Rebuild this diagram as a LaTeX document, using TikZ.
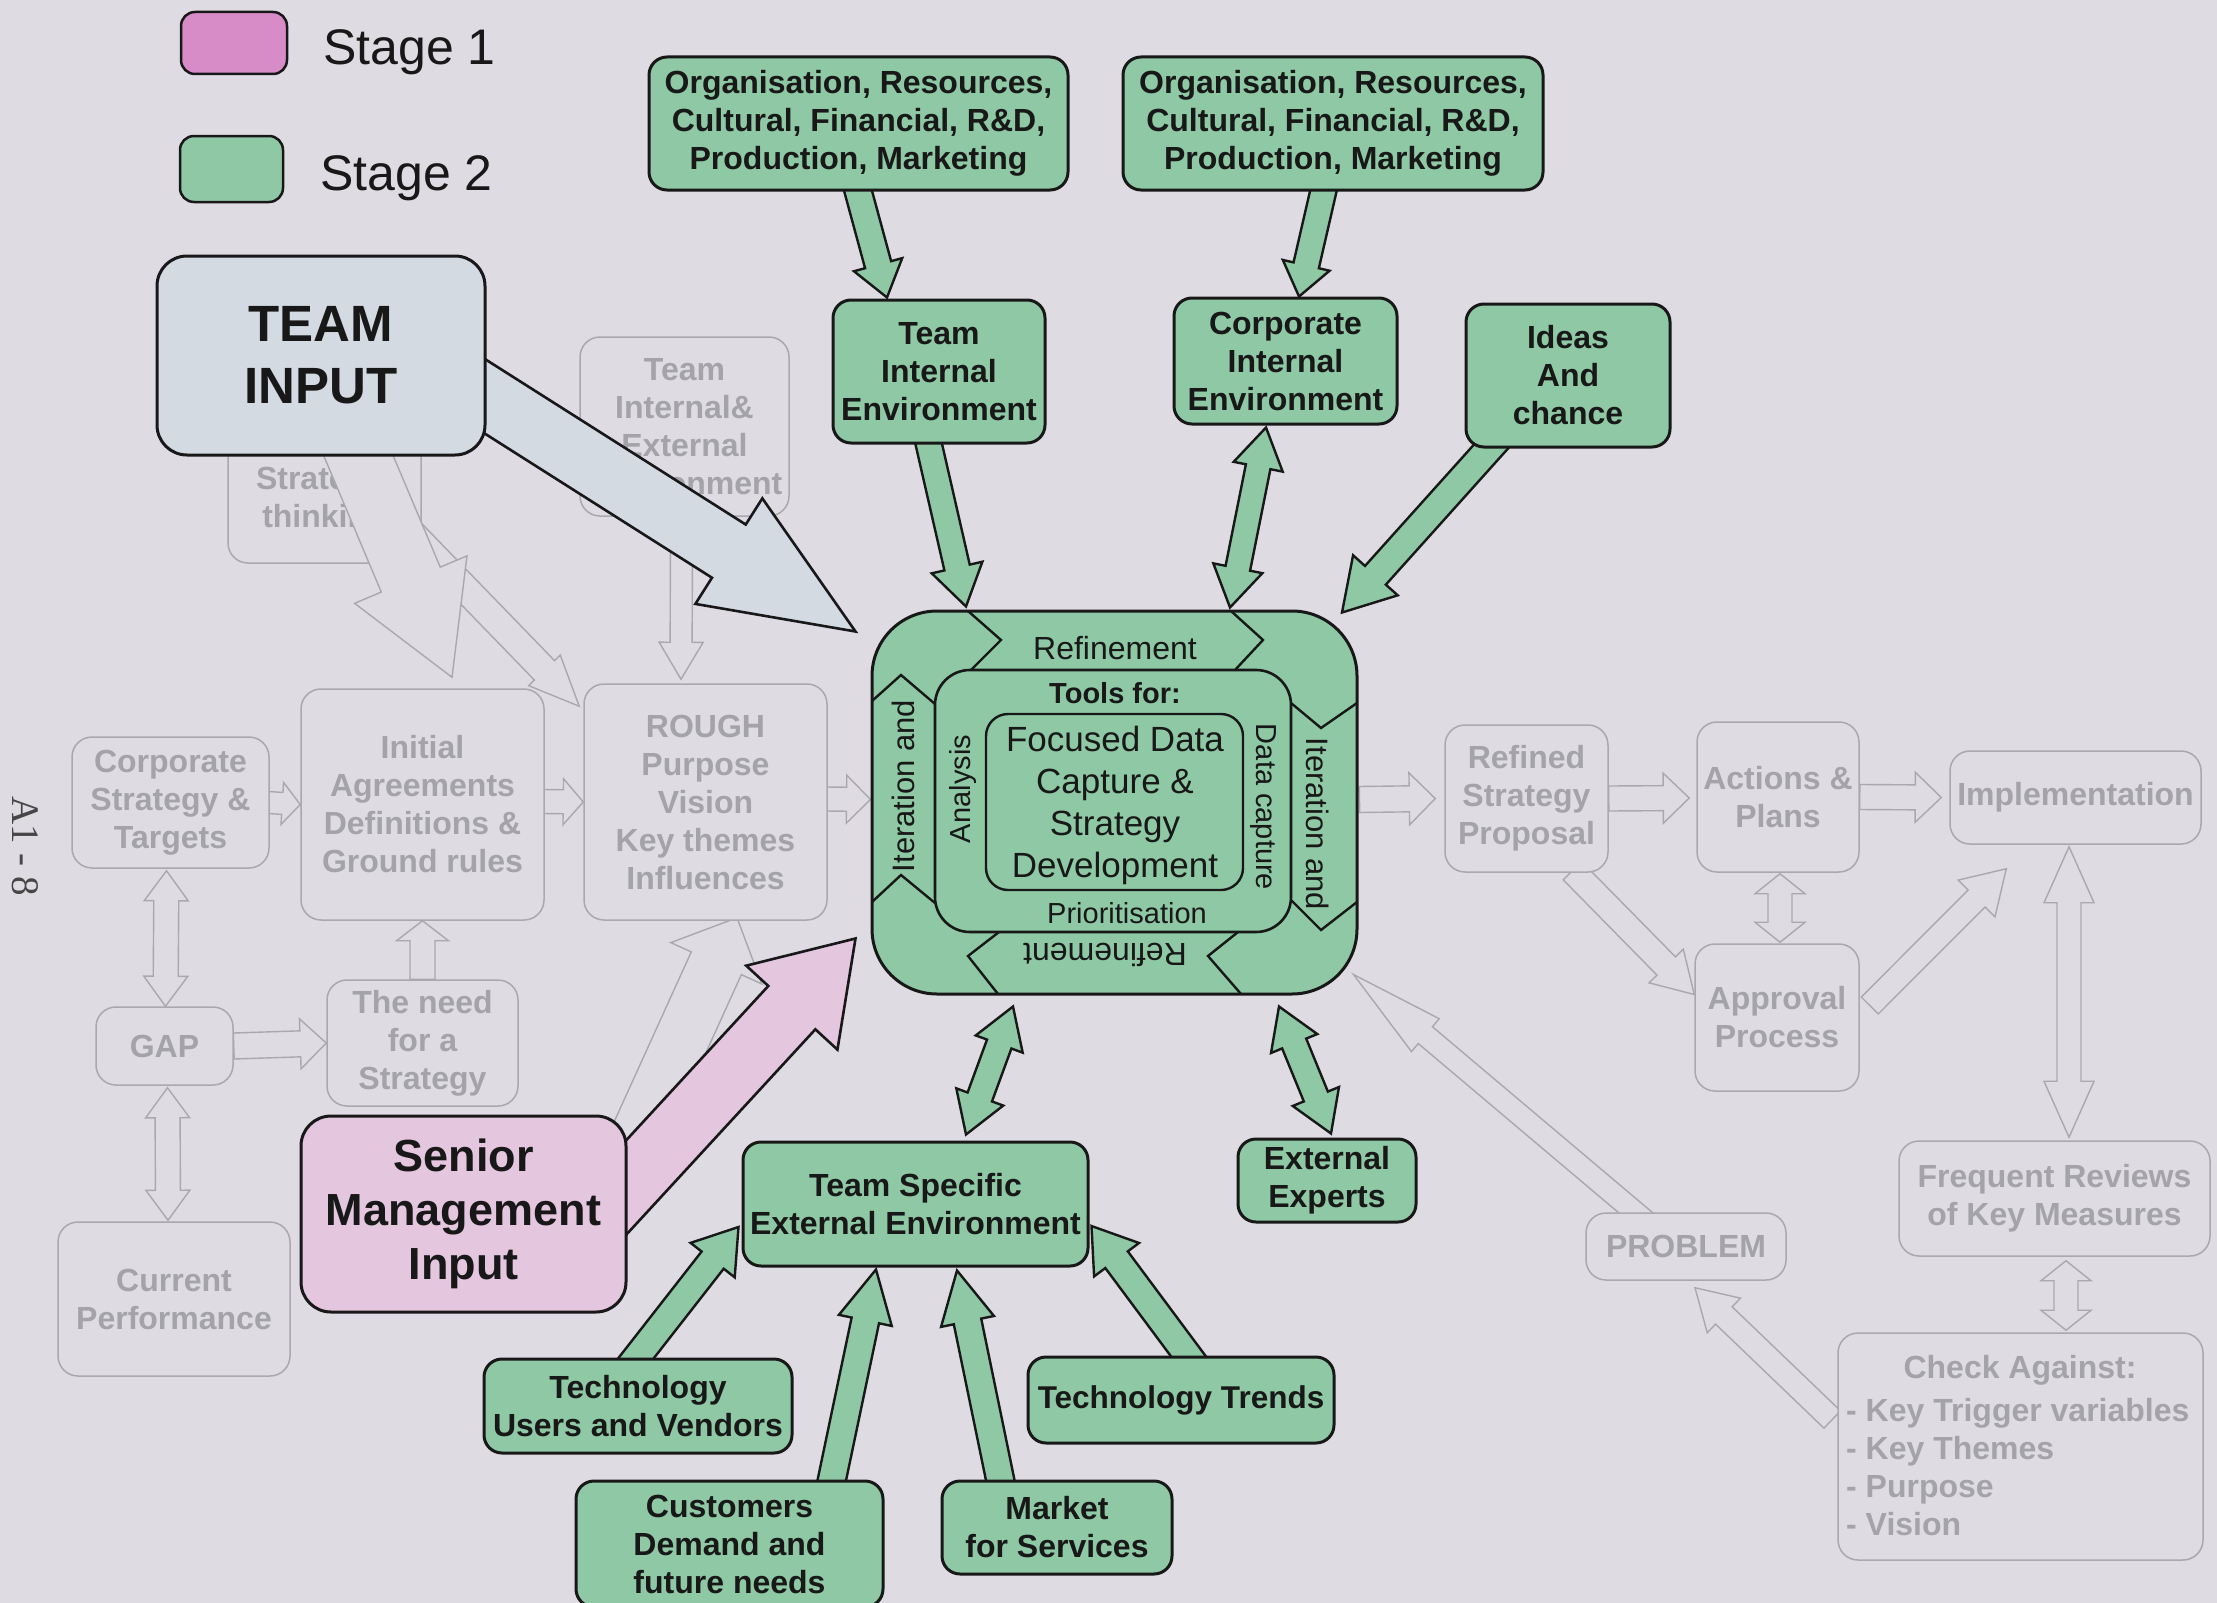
\documentclass[tikz,border=0pt]{standalone}
\usepackage{fontspec}
\setmainfont{Liberation Sans}
\newfontfamily\pagefont{Liberation Serif}
\usetikzlibrary{calc}

\definecolor{bgc}{RGB}{222,220,226}
\definecolor{grn}{RGB}{142,200,164}
\definecolor{pinkl}{RGB}{215,140,200}
\definecolor{pinks}{RGB}{228,198,222}
\definecolor{slate}{RGB}{212,218,226}
\definecolor{ink}{RGB}{24,24,24}
\definecolor{fline}{RGB}{168,168,174}
\definecolor{ftext}{RGB}{163,163,169}

\newcommand\fsz[2]{\fontsize{#1}{#2}\selectfont}

% single-headed block arrow: style, tail, tip, shaft width, head width, head length
\newcommand\blockarrow[6]{%
  \coordinate (bas) at (#2);
  \coordinate (bae) at (#3);
  \coordinate (bah) at ($(bae)!#6pt!(bas)$);
  \path[#1] ($(bas)!#4pt/2!90:(bae)$) -- ($(bah)!#4pt/2!90:(bae)$)
    -- ($(bah)!#5pt/2!90:(bae)$) -- (bae) -- ($(bah)!#5pt/2!-90:(bae)$)
    -- ($(bah)!#4pt/2!-90:(bae)$) -- ($(bas)!#4pt/2!-90:(bae)$) -- cycle;
}
% double-headed block arrow: style, end A, end B, shaft width, head width, head length
\newcommand\twinarrow[6]{%
  \coordinate (bas) at (#2);
  \coordinate (bae) at (#3);
  \coordinate (bah) at ($(bae)!#6pt!(bas)$);
  \coordinate (bat) at ($(bas)!#6pt!(bae)$);
  \path[#1] (bas) -- ($(bat)!#5pt/2!90:(bae)$) -- ($(bat)!#4pt/2!90:(bae)$)
    -- ($(bah)!#4pt/2!90:(bae)$) -- ($(bah)!#5pt/2!90:(bae)$) -- (bae)
    -- ($(bah)!#5pt/2!-90:(bae)$) -- ($(bah)!#4pt/2!-90:(bae)$)
    -- ($(bat)!#4pt/2!-90:(bae)$) -- ($(bat)!#5pt/2!-90:(bae)$) -- cycle;
}

\pgfdeclarelayer{bglayer}
\pgfdeclarelayer{stratlayer}
\pgfdeclarelayer{fadearrows}
\pgfdeclarelayer{fadeboxes}
\pgfdeclarelayer{corelayer}
\pgfdeclarelayer{bigarrows}
\pgfdeclarelayer{bigboxes}
\pgfdeclarelayer{greenarrows}
\pgfsetlayers{bglayer,stratlayer,fadearrows,fadeboxes,corelayer,bigarrows,bigboxes,greenarrows,main}

\begin{document}
\begin{tikzpicture}[x=1pt,y=-1pt,
  sz/.style 2 args={minimum width=#1pt,minimum height=#2pt},
  gbox/.style={draw=ink,line width=3pt,fill=grn,rounded corners=18pt,align=center,
    inner sep=0pt,font=\fsz{32}{38}\bfseries,text=ink},
  fadedbox/.style={draw=fline,line width=1.5pt,fill=bgc,rounded corners=20pt,align=center,
    inner sep=0pt,font=\fsz{32}{38}\bfseries,text=ftext},
  ftxt/.style={inner sep=0pt,font=\fsz{32}{38}\bfseries,text=ftext},
  garrow/.style={draw=ink,line width=2.4pt,fill=grn,line join=miter},
  farrow/.style={draw=fline,line width=1.4pt,fill=bgc,line join=miter},
  coretxt/.style={inner sep=0pt,text=ink}]

\useasboundingbox (0,0) rectangle (2217,1603);
\begin{pgfonlayer}{bglayer}
  \fill[bgc] (0,0) rectangle (2217,1603);
\end{pgfonlayer}

% ---------- earlier and later process stages (faded) ----------
\begin{pgfonlayer}{stratlayer}
  \node[fadedbox,sz={193}{126}] (strat) at (324.5,500) {Strategic\\thinking};
\end{pgfonlayer}

\begin{pgfonlayer}{fadeboxes}
  \node[fadedbox,sz={209}{179}] (teamie) at (684.5,426.5) {Team\\Internal\&\\External\\Environment};
  \node[fadedbox,sz={197}{131}] (corp) at (170.5,802.5) {Corporate\\Strategy \&\\Targets};
  \node[fadedbox,sz={243}{231}] (initial) at (422.5,804.5) {Initial\\Agreements\\Definitions \&\\Ground rules};
  \node[fadedbox,sz={243}{236}] (rough) at (705.5,802) {ROUGH\\Purpose\\Vision\\Key themes\\Influences};
  \node[fadedbox,sz={137}{78}] (gap) at (164.5,1046) {GAP};
  \node[fadedbox,sz={191}{126}] (need) at (422.5,1043) {The need\\for a\\Strategy};
  \node[fadedbox,sz={232}{154}] (current) at (174,1299) {Current\\Performance};
  \node[fadedbox,sz={163}{147}] (refined) at (1526.5,798.5) {Refined\\Strategy\\Proposal};
  \node[fadedbox,sz={162}{150}] (actions) at (1778,797) {Actions \&\\Plans};
  \node[fadedbox,sz={251}{93}] (impl) at (2075.5,797.5) {Implementation};
  \node[fadedbox,sz={164}{147}] (approval) at (1777,1017.5) {Approval\\Process};
  \node[fadedbox,sz={200}{67}] (problem) at (1686,1246.5) {PROBLEM};
  \node[fadedbox,sz={311}{115}] (frequent) at (2054.5,1198.5) {Frequent Reviews\\of Key Measures};
  \node[fadedbox,sz={365}{227}] (check) at (2020.5,1446.5) {};
  \node[ftxt] (checkhead) at (2020,1370) {Check Against:};
  \node[ftxt,anchor=west,align=left] (checklist) at (1846,1467) {- Key Trigger variables\\- Key Themes\\- Purpose\\- Vision};
\end{pgfonlayer}

% ---------- central block ----------
\begin{pgfonlayer}{corelayer}
  \node[draw=ink,line width=3pt,fill=grn,rounded corners=65pt,sz={485}{383}] (core) at (1114.5,802.5) {};
  \node[draw=ink,line width=2.6pt,rounded corners=35pt,sz={356}{262}] (coremid) at (1113,801) {};
  \node[draw=ink,line width=2.4pt,rounded corners=22pt,sz={257}{176}] (focus) at (1114.5,802) {};
  % chevron dividers of the refinement / iteration ring
  \draw[ink,line width=2.4pt]
    (968,611) -- (1001,640) -- (971,670)
    (1231,611) -- (1263,640) -- (1235,670)
    (1291,703) -- (1321,728) -- (1357,703)
    (1291,900) -- (1321,930) -- (1357,902)
    (1238,932) -- (1208,956) -- (1241,994)
    (999,932) -- (968,956) -- (998,994)
    (872,902) -- (901,875) -- (935,903)
    (872,701) -- (901,675) -- (935,704);
  \node[coretxt,font=\fsz{35}{42},align=center] (focustxt) at (1115,805) {Focused Data\\Capture \&\\Strategy\\Development};
  \node[coretxt,font=\fsz{32}{38}] (reftop) at (1115,648) {Refinement};
  \node[coretxt,font=\fsz{29}{34}\bfseries] (tools) at (1115,693) {Tools for:};
  \node[coretxt,font=\fsz{29}{34},rotate=90] (analysis) at (963,789) {Analysis};
  \node[coretxt,font=\fsz{29}{34},rotate=-90] (datacap) at (1263,807) {Data capture};
  \node[coretxt,font=\fsz{29}{34}] (prio) at (1127,913) {Prioritisation};
  \node[coretxt,font=\fsz{32}{38},rotate=180] (refbot) at (1105,955) {Refinement};
  \node[coretxt,font=\fsz{31}{36},rotate=90] (iterleft) at (903,786) {Iteration and};
  \node[coretxt,font=\fsz{31}{36},rotate=-90] (iterright) at (1318,824) {Iteration and};
\end{pgfonlayer}

% ---------- input boxes ----------
\begin{pgfonlayer}{bigboxes}
  \node[draw=ink,line width=3pt,fill=slate,rounded corners=30pt,sz={328}{199},align=center,
    inner sep=0pt,font=\fsz{51}{62}\bfseries,text=ink] (teaminput) at (321,355.5) {TEAM\\INPUT};
  \node[draw=ink,line width=3pt,fill=pinks,rounded corners=30pt,sz={325}{196},align=center,
    inner sep=0pt,font=\fsz{45}{54}\bfseries,text=ink] (senior) at (463.5,1214) {Senior\\Management\\Input};
\end{pgfonlayer}

% ---------- stage 2 boxes ----------
\node[gbox,sz={419}{133}] (org1) at (858.5,123.5) {Organisation, Resources,\\Cultural, Financial, R\&D,\\Production, Marketing};
\node[gbox,sz={420}{133}] (org2) at (1333,123.5) {Organisation, Resources,\\Cultural, Financial, R\&D,\\Production, Marketing};
\node[gbox,sz={212}{143}] (teamint) at (939,371.5) {Team\\Internal\\Environment};
\node[gbox,sz={223}{126}] (corpint) at (1285.5,361) {Corporate\\Internal\\Environment};
\node[gbox,sz={204}{143}] (ideas) at (1568,375.5) {Ideas\\And\\chance};
\node[gbox,sz={345}{124}] (teamspec) at (915.5,1204) {Team Specific\\External Environment};
\node[gbox,sz={178}{83}] (extexp) at (1327,1180.5) {External\\Experts};
\node[gbox,sz={308}{94}] (techusers) at (638,1406) {Technology\\Users and Vendors};
\node[gbox,sz={306}{86},font=\fsz{31.5}{38}\bfseries] (techtrends) at (1181,1400) {Technology Trends};
\node[gbox,sz={307}{126}] (customers) at (729.5,1544) {Customers\\Demand and\\future needs};
\node[gbox,sz={230}{93}] (market) at (1057,1527.5) {Market\\for Services};

% ---------- legend ----------
\node[draw=ink,line width=2.5pt,fill=pinkl,rounded corners=14pt,sz={106}{62}] (leg1) at (234,43) {};
\node[draw=ink,line width=2.5pt,fill=grn,rounded corners=14pt,sz={103}{66}] (leg2) at (231.5,169) {};
\node[anchor=base west,inner sep=0pt,font=\fsz{50}{60},text=ink] (leg1txt) at (323,64) {Stage 1};
\node[anchor=base west,inner sep=0pt,font=\fsz{50}{60},text=ink] (leg2txt) at (320,190) {Stage 2};
\node[rotate=-90,inner sep=0pt,font=\pagefont\fsz{39}{45},text=ink!80] (pageno) at (25,846) {A1 - 8};

% ---------- faded connectors ----------
\begin{pgfonlayer}{fadearrows}
  \blockarrow{farrow}{$(teaminput.south)+(86,72)$}{$(rough.north west)+(-4,23)$}{28}{44}{50}
  \blockarrow{farrow}{$(teaminput.south)+(15,-54)$}{$(initial.north)+(29.5,-11)$}{64}{122}{106}
  \blockarrow{farrow}{$(teamie.south)+(-3,14)$}{$(rough.north)+(-24.5,-4)$}{22}{44}{37}
  \blockarrow{farrow}{$(corp.east)+(-2,0)$}{initial.west}{22}{42}{18}
  \blockarrow{farrow}{$(initial.east)+(-1,-3)$}{rough.west}{24}{46}{20}
  \blockarrow{farrow}{$(rough.east)+(-1,-3)$}{$(core.west)+(0,-3)$}{24}{48}{24}
  \blockarrow{farrow}{gap.east}{$(need.west)+(0,0)$}{26}{50}{26}
  \blockarrow{farrow}{need.north}{initial.south}{25}{52}{20}
  \twinarrow{farrow}{$(corp.south)+(-4,2)$}{$(gap.north)+(1,0)$}{25}{44}{30}
  \twinarrow{farrow}{$(gap.south)+(3,2)$}{$(current.north)+(-6,-1)$}{25}{44}{30}
  \blockarrow{farrow}{$(senior.east)+(4,-64)$}{$(rough.south)+(31.5,-3)$}{55}{100}{50}
  \blockarrow{farrow}{$(core.east)+(1,-3)$}{$(refined.west)+(-9,0)$}{26}{52}{26}
  \blockarrow{farrow}{refined.east}{$(actions.west)+(-7,1)$}{25}{50}{26}
  \blockarrow{farrow}{actions.east}{$(impl.west)+(-8,0)$}{25}{50}{26}
  \twinarrow{farrow}{$(actions.south)+(2,1)$}{$(approval.north)+(3,-1)$}{24}{50}{20}
  \blockarrow{farrow}{$(refined.south)+(46,-2)$}{$(approval.west)+(0,-23)$}{26}{48}{40}
  \blockarrow{farrow}{$(approval.east)+(10,-12)$}{$(impl.south west)+(57,24)$}{24}{52}{42}
  \twinarrow{farrow}{$(impl.south)+(-6.5,2)$}{$(frequent.north)+(14.5,-3)$}{24}{50}{56}
  \twinarrow{farrow}{$(frequent.south)+(11.5,4)$}{$(check.north)+(45.5,-2)$}{24}{50}{20}
  \blockarrow{farrow}{$(check.west)+(-5,-27)$}{$(problem.south)+(9,7)$}{24}{48}{40}
  \blockarrow{farrow}{$(problem.north)+(-26,21)$}{$(core.south east)+(-5,-21)$}{22}{43}{94}
\end{pgfonlayer}

% ---------- input arrows ----------
\begin{pgfonlayer}{bigarrows}
  \blockarrow{draw=ink,line width=2.6pt,fill=slate,line join=miter}{$(teaminput.east)+(-62,2.5)$}{$(core.north west)+(-15,22)$}{63}{125}{150}
  \blockarrow{draw=ink,line width=2.6pt,fill=pinks,line join=miter}{$(senior.center)+(89.5,53)$}{$(core.south west)+(-15,-57)$}{64}{124}{94}
\end{pgfonlayer}

% ---------- stage 2 connectors ----------
\begin{pgfonlayer}{greenarrows}
  \blockarrow{garrow}{$(org1.south)+(-3,-10)$}{$(teamint.north)+(-52,-1)$}{27}{50}{34}
  \blockarrow{garrow}{$(org2.south)+(-7,-12)$}{$(corpint.north)+(13.5,0)$}{26}{48}{32}
  \blockarrow{garrow}{$(teamint.south)+(-12,-8)$}{$(core.north)+(-148.5,-3)$}{26}{52}{40}
  \twinarrow{garrow}{$(core.north)+(115.5,-2)$}{$(corpint.south)+(-19.5,2)$}{25}{50}{40}
  \blockarrow{garrow}{$(ideas.south)+(-68,-12)$}{$(core.north)+(227.5,3)$}{28}{60}{50}
  \twinarrow{garrow}{$(core.south)+(-101.5,11)$}{$(teamspec.north)+(50.5,-6)$}{26}{50}{40}
  \twinarrow{garrow}{$(core.south)+(164.5,11)$}{$(extexp.north)+(4,-4)$}{26}{50}{40}
  \blockarrow{garrow}{$(techusers.north)+(-10,11)$}{$(teamspec.west)+(-3,23)$}{28}{56}{42}
  \blockarrow{garrow}{$(customers.north)+(99.5,14)$}{$(teamspec.south)+(-39.5,2)$}{28}{54}{52}
  \blockarrow{garrow}{$(market.north)+(-54,14)$}{$(teamspec.south)+(41.5,3)$}{28}{54}{52}
  \blockarrow{garrow}{$(techtrends.north)+(15,11)$}{$(teamspec.east)+(2,22)$}{28}{56}{42}
\end{pgfonlayer}

\end{tikzpicture}
\end{document}
